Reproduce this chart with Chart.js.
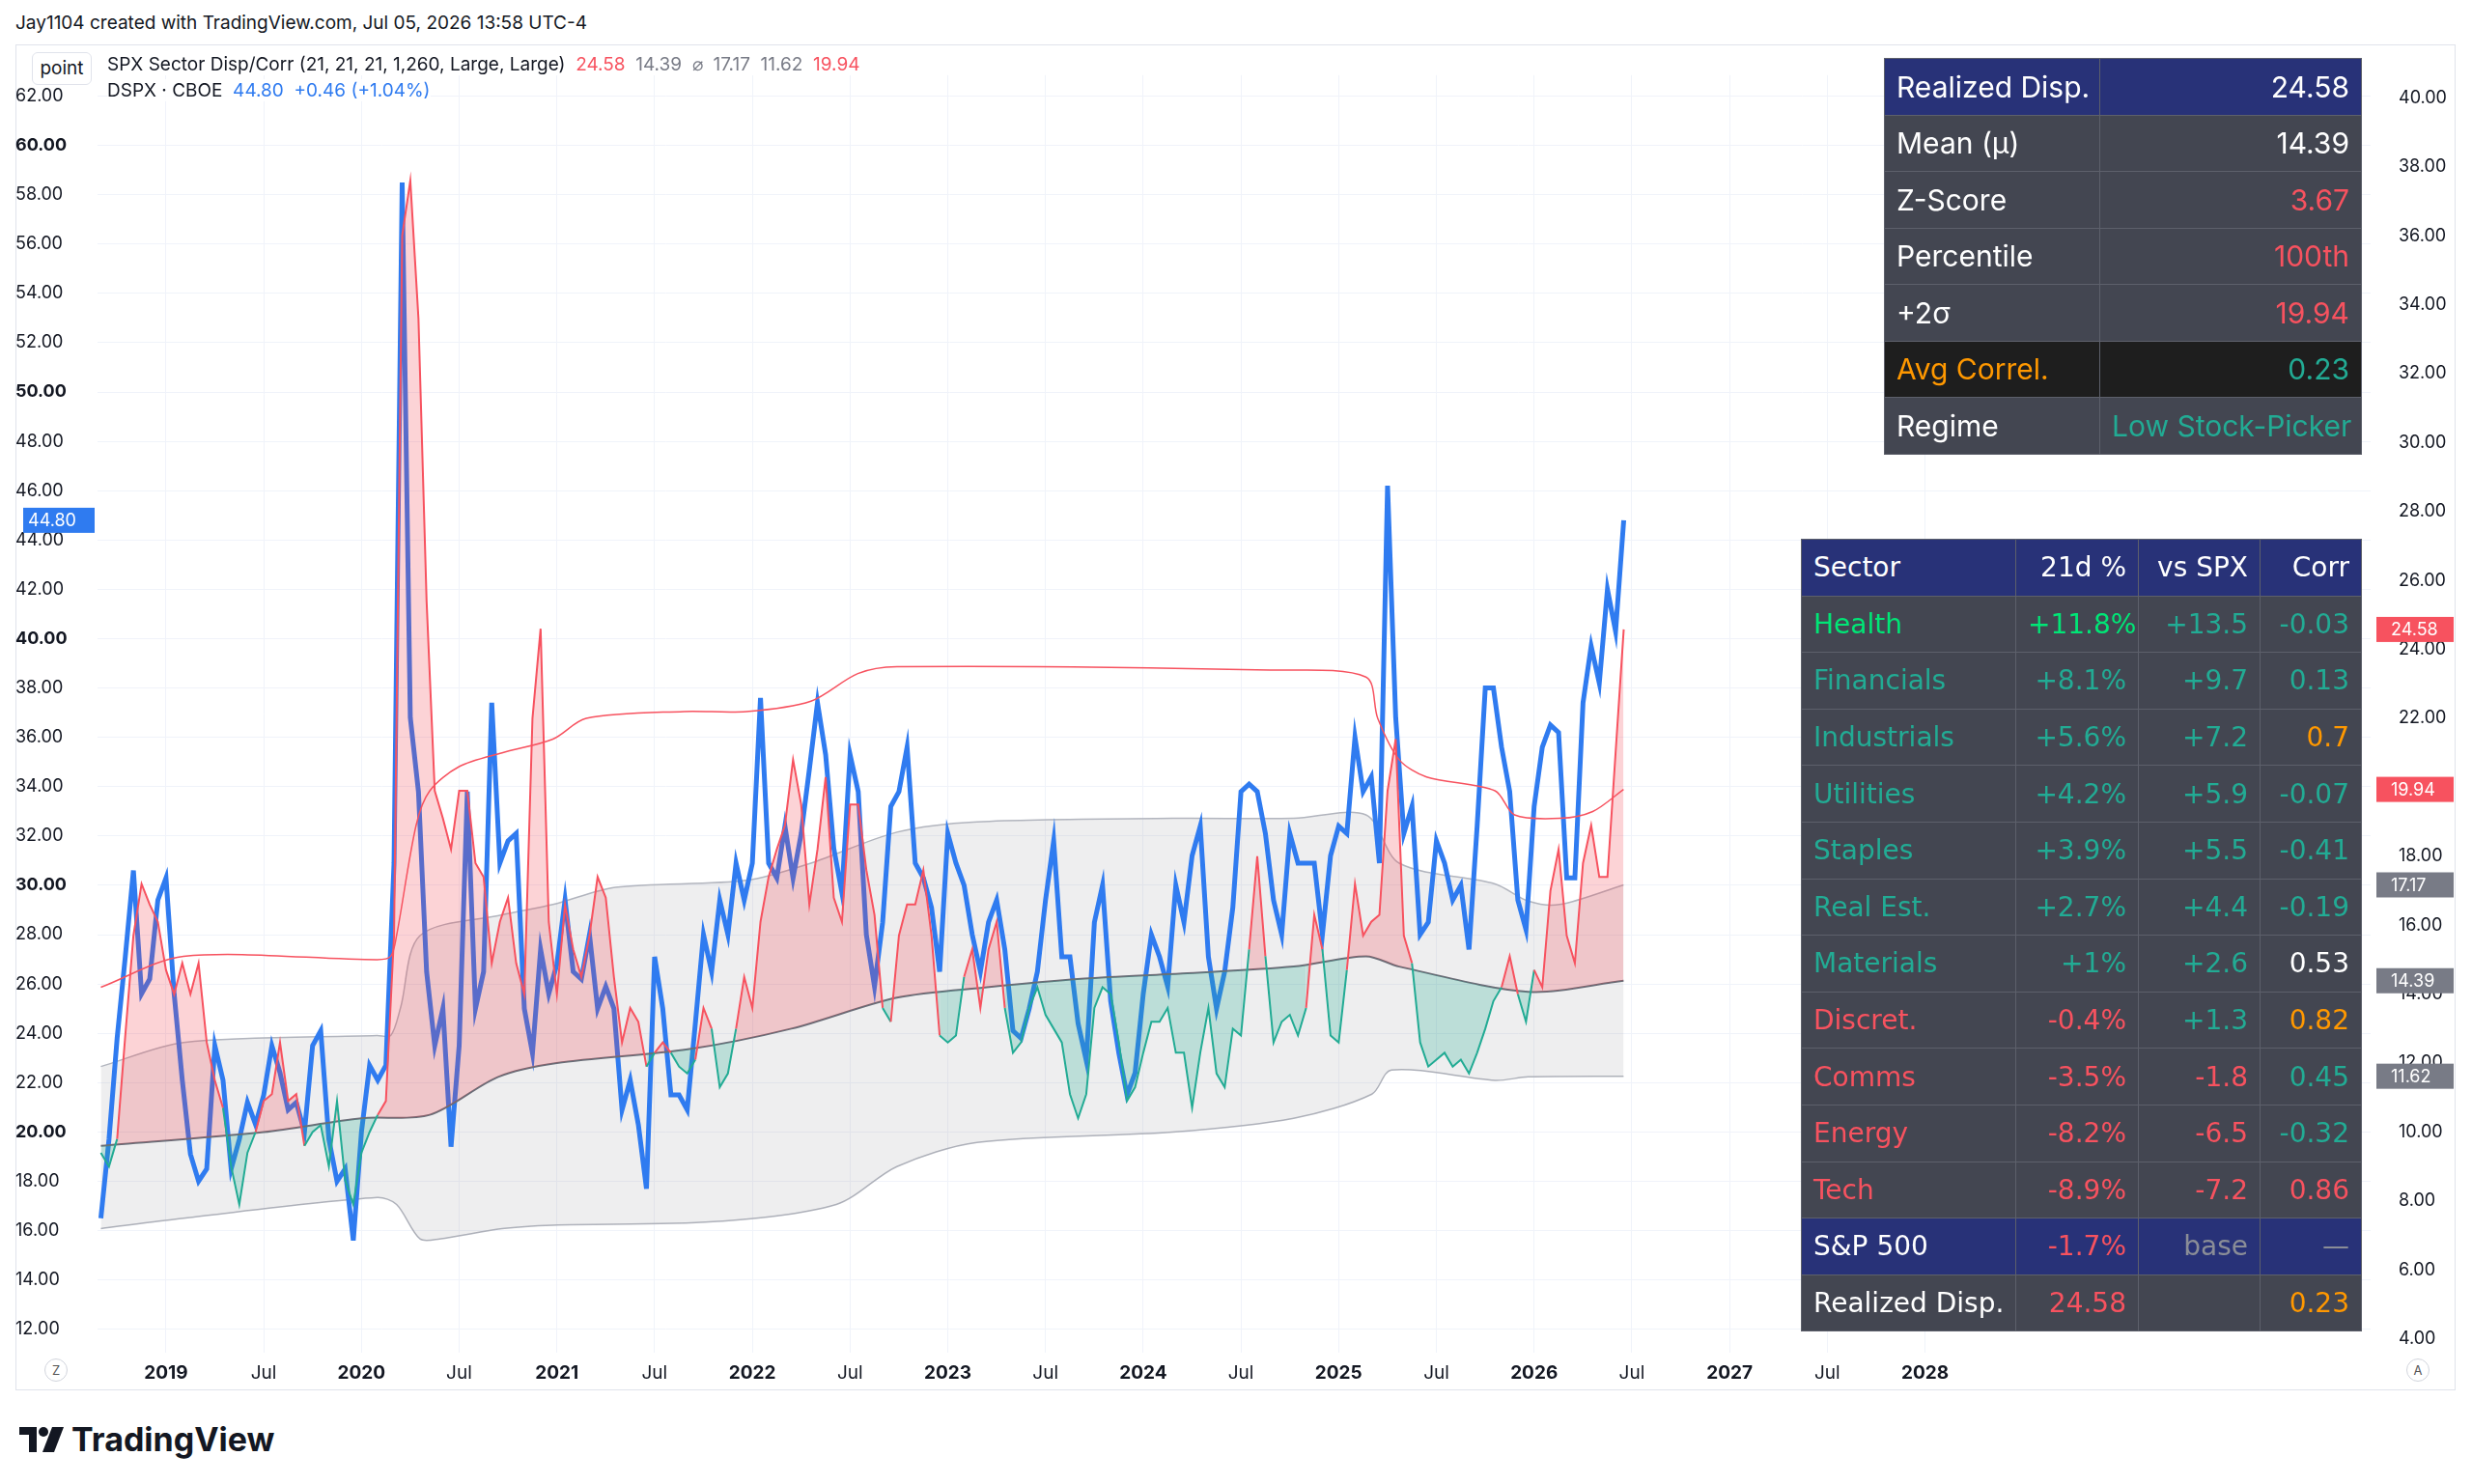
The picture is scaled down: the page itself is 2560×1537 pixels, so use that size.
<!DOCTYPE html>
<html><head><meta charset="utf-8">
<script src="https://cdn.jsdelivr.net/npm/chart.js@4.4.1/dist/chart.umd.min.js"></script>
<style>
html,body{margin:0;padding:0;background:#fff;width:2560px;height:1537px;overflow:hidden;font-family:Inter,Roboto,sans-serif;color:#131722}
#hdr{position:absolute;left:16px;top:12px;font-size:19px}
#frame{position:absolute;left:16px;top:46px;width:2527px;height:1394px;border:1px solid #e0e3eb;box-sizing:border-box}
#wrap{position:absolute;left:16px;top:46px;width:2527px;height:1394px}
#pt{position:absolute;left:33px;top:54px;width:60px;height:32px;border:1px solid #e0e3eb;border-radius:6px;background:#fff;text-align:center;line-height:32px;font-size:19px}
.l1{position:absolute;left:111px;top:55px;font-size:19px;white-space:nowrap;background:rgba(255,255,255,0.85)}
.l2{position:absolute;left:111px;top:82px;font-size:19px;white-space:nowrap;background:rgba(255,255,255,0.85)}
table{position:absolute;border-collapse:collapse;table-layout:fixed}
td{border:1.5px solid #5d606b;padding:0 12px;white-space:nowrap;overflow:hidden;box-sizing:border-box}
#t1{left:1951px;top:60px;width:494px;font-family:Inter,sans-serif;font-size:30px}
#t1 td{height:58.5px;background:#434651;color:#fff}
#t2{left:1865px;top:558px;width:580px;font-family:"DejaVu Sans",sans-serif;font-size:28px}
#t2 td{height:58.6px;background:#434651;color:#fff}
.nv td{background:#283278 !important}
.dk td{background:#1e1e1e !important}
.r{text-align:right}
.red{color:#f7525f !important}.tl{color:#22ab94 !important}.or{color:#ff9800 !important}.gr{color:#00e676 !important}.gy{color:#8a8d97 !important}.wh{color:#fff !important}
#logo{position:absolute;left:20px;top:1470px;font-size:34px;font-weight:700;display:flex;align-items:center;gap:8px;font-family:Inter,sans-serif}
.circ{position:absolute;width:22px;height:22px;border-radius:50%;border:1px solid #d1d4dc;font-size:13px;text-align:center;line-height:22px;color:#555;background:#fff}
</style></head><body>
<div id="hdr">Jay1104 created with TradingView.com, Jul 05, 2026 13:58 UTC-4</div>
<div id="frame"></div>
<div id="wrap"><canvas id="c" width="2527" height="1394" style="width:2527px;height:1394px"></canvas></div>
<div id="pt">point</div>
<div class="l1">SPX Sector Disp/Corr (21, 21, 21, 1,260, Large, Large)&nbsp; <span style="color:#f7525f">24.58</span>&nbsp; <span style="color:#787b86">14.39</span>&nbsp; <span style="color:#787b86">⌀</span>&nbsp; <span style="color:#787b86">17.17</span>&nbsp; <span style="color:#787b86">11.62</span>&nbsp; <span style="color:#f7525f">19.94</span></div>
<div class="l2">DSPX · CBOE&nbsp; <span style="color:#2f7bf0">44.80</span>&nbsp; <span style="color:#2f7bf0">+0.46 (+1.04%)</span></div>
<table id="t1">
<colgroup><col style="width:223px"><col style="width:271px"></colgroup>
<tr class="nv"><td>Realized Disp.</td><td class="r">24.58</td></tr>
<tr><td>Mean (µ)</td><td class="r">14.39</td></tr>
<tr><td>Z-Score</td><td class="r red">3.67</td></tr>
<tr><td>Percentile</td><td class="r red">100th</td></tr>
<tr><td>+2σ</td><td class="r red">19.94</td></tr>
<tr class="dk"><td class="or">Avg Correl.</td><td class="r tl">0.23</td></tr>
<tr><td>Regime</td><td class="r tl">Low Stock-Picker</td></tr>
</table>
<table id="t2">
<colgroup><col style="width:222px"><col style="width:127px"><col style="width:126px"><col style="width:105px"></colgroup>
<tr class="nv"><td>Sector</td><td class="r">21d %</td><td class="r">vs SPX</td><td class="r">Corr</td></tr>
<tr><td class="gr">Health</td><td class="r gr">+11.8%</td><td class="r tl">+13.5</td><td class="r tl">-0.03</td></tr>
<tr><td class="tl">Financials</td><td class="r tl">+8.1%</td><td class="r tl">+9.7</td><td class="r tl">0.13</td></tr>
<tr><td class="tl">Industrials</td><td class="r tl">+5.6%</td><td class="r tl">+7.2</td><td class="r or">0.7</td></tr>
<tr><td class="tl">Utilities</td><td class="r tl">+4.2%</td><td class="r tl">+5.9</td><td class="r tl">-0.07</td></tr>
<tr><td class="tl">Staples</td><td class="r tl">+3.9%</td><td class="r tl">+5.5</td><td class="r tl">-0.41</td></tr>
<tr><td class="tl">Real Est.</td><td class="r tl">+2.7%</td><td class="r tl">+4.4</td><td class="r tl">-0.19</td></tr>
<tr><td class="tl">Materials</td><td class="r tl">+1%</td><td class="r tl">+2.6</td><td class="r wh">0.53</td></tr>
<tr><td class="red">Discret.</td><td class="r red">-0.4%</td><td class="r tl">+1.3</td><td class="r or">0.82</td></tr>
<tr><td class="red">Comms</td><td class="r red">-3.5%</td><td class="r red">-1.8</td><td class="r tl">0.45</td></tr>
<tr><td class="red">Energy</td><td class="r red">-8.2%</td><td class="r red">-6.5</td><td class="r tl">-0.32</td></tr>
<tr><td class="red">Tech</td><td class="r red">-8.9%</td><td class="r red">-7.2</td><td class="r red">0.86</td></tr>
<tr class="nv"><td>S&amp;P 500</td><td class="r red">-1.7%</td><td class="r gy">base</td><td class="r gy">—</td></tr>
<tr><td>Realized Disp.</td><td class="r red">24.58</td><td></td><td class="r or">0.23</td></tr>
</table>
<div class="circ" style="left:46px;top:1407px">Z</div>
<div class="circ" style="left:2492px;top:1407px">A</div>
<div id="logo"><svg width="46" height="26" viewBox="0 0 46 26"><path d="M0 0h18v26h-8V8H0z" fill="#131722"/><circle cx="25" cy="5" r="5" fill="#131722"/><path d="M34 0h12L36 26h-12z" fill="#131722"/></svg>TradingView</div>
<script>
// time grid: semi-monthly steps starting Sep 2018
const START_YEAR = 2018.667, STEP = 1/24;
const dspx = [16.5,19.7,23.8,27.1,30.6,25.6,26.2,29.4,30.3,25.6,
22.1,19.1,18,18.5,23.5,22.1,18.5,19.7,21.2,20.3,
21.5,23.5,22.4,20.9,21.2,20,23.5,24.1,19.7,18,
18.5,15.6,20,22.7,22.1,22.7,30.9,58.5,36.8,33.8,
26.5,23.5,25,19.4,23.5,33.8,25,26.5,37.4,30.9,
31.8,32.1,25,23.2,27.4,25.6,26.8,29.4,26.5,26.2,
28,25,25.9,25,20.9,22.1,20.3,17.7,27.1,25,
21.5,21.5,20.9,24.4,28,26.5,29.4,28,30.9,29.4,
30.9,37.6,30.9,30.3,32.4,30.3,32.1,34.7,37.4,35.3,
31.5,29.7,35.3,33.8,28,25.9,28.5,33.2,33.8,35.6,
30.9,30.3,29.1,26.5,32.1,30.9,30,28,26.5,28.5,
29.4,27.4,24.1,23.8,25,26.5,29.4,31.8,27.1,27.1,
24.4,22.9,28.5,30,25.3,23.2,21.5,22.4,25.6,28,
27.1,25.9,30,28.5,31.2,32.4,27.1,25,26.5,29.1,
33.8,34.1,33.8,32.1,29.4,28,32.1,30.9,30.9,30.9,
28,31.2,32.4,32.1,36,33.8,34.4,30.9,46.2,36.8,
32.1,33.2,28,28.5,31.8,30.9,29.4,30,27.4,32.4,
38,38,35.6,33.8,29.4,28.2,33.2,35.6,36.5,36.2,
30.3,30.3,37.4,39.7,38.2,42,40.3,44.8];
const realizedDisp = [9.4,9,9.8,12.8,15.7,17.2,16.6,16.1,14.7,14,
14.9,14,14.9,12.6,11.5,10.7,9,7.9,9.4,10,
10.9,11.1,12.6,10.9,11.1,9.6,10,10.2,9,10.9,
8.6,7.9,9.4,10,10.5,10.9,15.7,36,37.6,33.6,
25.4,19.9,19.1,18.2,19.9,19.9,17.8,17.4,14.9,16.1,
16.8,14.9,14,22,24.6,16.1,14,16.6,15.3,14.5,
15.7,17.4,16.8,14.5,12.6,13.6,13.2,11.9,12.3,12.6,
12.3,11.9,11.7,12.1,13.6,13,11.3,11.7,13,14.5,
13.6,16.1,17.4,18.2,18.9,20.8,19.5,16.6,18.2,20.3,
16.8,16.1,19.5,19.5,17.6,16.3,13.6,13.2,15.7,16.6,
16.6,17.6,15.7,12.8,12.6,12.8,14.5,15.3,13.6,15.3,
16.1,13.6,12.3,12.6,13.6,14.2,13.4,13,12.6,11.1,
10.4,11.1,13.6,14.2,14,12.6,10.9,11.3,12.3,13.2,
13.2,13.6,12.3,12.3,10.7,12.3,13.6,11.7,11.3,13,
12.8,15.3,18,15.1,12.6,13.2,13.4,12.8,13.6,16.3,
15.3,12.8,12.6,14.7,17.2,15.7,16.1,16.3,19.9,21.4,
15.7,14.9,12.6,11.9,12.1,12.3,11.9,12.1,11.7,12.3,
13,13.8,14.2,15.1,14,13.2,14.7,14.2,17,18.2,
15.7,14.9,17.8,18.9,17.4,17.4,21,24.58];
const meanDates = [2018.667,2019.5,2020.0,2020.35,2020.7,2021.0,2021.67,2022.2,2022.74,2023.2,2023.7,2024.2,2024.77,2025.14,2025.31,2025.97,2026.458];
const meanVals  = [9.6,10.0,10.4,10.5,11.6,12.0,12.4,13.0,13.9,14.2,14.45,14.6,14.8,15.1,14.8,14.07,14.39];
const sig2Dates = [2018.667,2019.09,2020.08,2020.15,2020.18,2020.28,2020.35,2020.5,2020.72,2020.98,2021.15,2021.65,2021.97,2022.3,2022.54,2022.74,2024.65,2025.14,2025.2,2025.31,2025.45,2025.8,2025.9,2026.13,2026.3,2026.458];
const sig2Vals  = [14.2,15.1,15.0,15.1,15.7,18.9,19.9,20.6,21.0,21.4,22.0,22.2,22.2,22.5,23.3,23.5,23.4,23.2,22.0,20.8,20.3,19.9,19.2,19.1,19.3,19.94];
const upDates = [2018.667,2019.09,2020.08,2020.15,2020.2,2020.3,2020.72,2020.98,2021.3,2021.97,2022.3,2022.74,2023.15,2024.15,2024.77,2025.14,2025.31,2025.8,2025.97,2026.13,2026.458];
const upVals  = [11.9,12.6,12.8,12.8,13.6,15.7,16.3,16.6,17.1,17.3,17.8,18.7,19.0,19.1,19.1,19.2,17.8,17.2,16.7,16.6,17.17];
const loDates = [2018.667,2019.09,2020.08,2020.18,2020.3,2020.4,2020.72,2020.98,2021.8,2022.43,2022.74,2023.15,2024.15,2024.77,2025.17,2025.27,2025.8,2025.97,2026.458];
const loVals  = [7.2,7.5,8.1,7.9,6.9,6.9,7.2,7.3,7.4,7.9,9.0,9.7,10.0,10.4,11.1,11.8,11.5,11.6,11.62];
const xTickVals = [2019,2019.5,2020,2020.5,2021,2021.5,2022,2022.5,2023,2023.5,2024,2024.5,2025,2025.5,2026,2026.5,2027,2027.5,2028];
const leftTicks = [12,14,16,18,20,22,24,26,28,30,32,34,36,38,40,42,44,46,48,50,52,54,56,58,60,62];
const rightTicks = [4,6,8,10,12,14,16,18,20,22,24,26,28,30,32,34,36,38,40];
const rightBoxes = [[24.58,'#f7525f'],[19.94,'#f7525f'],[17.17,'#787b86'],[14.39,'#787b86'],[11.62,'#787b86']];
const leftBoxes = [[44.80,'#2f7bf0']];

const tx = i => START_YEAR + i*STEP;
const pts = (arr) => arr.map((v,i)=>({x:tx(i),y:v}));
const pair = (d,v) => d.map((x,i)=>({x:x,y:v[i]}));
function meanAt(x){
  for(let i=1;i<meanDates.length;i++){ if(x<=meanDates[i]){const a=meanDates[i-1],b=meanDates[i];return meanVals[i-1]+(meanVals[i]-meanVals[i-1])*(x-a)/(b-a);} }
  return meanVals[meanVals.length-1];
}
const RED='#f7525f', TEAL='#22ab94';
const boxes = {id:'boxes',afterDraw(c){
  const g=c.ctx; g.save(); g.font='18px Inter'; g.textBaseline='middle';
  const yr=c.scales.yR, yl=c.scales.yL;
  rightBoxes.forEach(([v,col])=>{const y=yr.getPixelForValue(v);g.fillStyle=col;g.fillRect(yr.left+6,y-13,yr.width-8,26);g.fillStyle='#fff';g.textAlign='left';g.fillText(v.toFixed(2),yr.left+21,y+1);});
  leftBoxes.forEach(([v,col])=>{const y=yl.getPixelForValue(v);g.fillStyle=col;g.fillRect(8,y-13,74,26);g.fillStyle='#fff';g.textAlign='left';g.fillText(v.toFixed(2),13,y+1);});
  g.restore();
}};
new Chart(document.getElementById('c'),{
  type:'line',
  data:{datasets:[
    {label:'DSPX',data:pts(dspx),yAxisID:'yL',borderColor:'#2f7bf0',borderWidth:5,pointRadius:0,order:3,fill:false,tension:0},
    {label:'upper',data:pair(upDates,upVals),yAxisID:'yR',borderColor:'#b2b5be',borderWidth:1.5,pointRadius:0,order:4,fill:{target:2,above:'rgba(120,123,134,0.13)',below:'rgba(120,123,134,0.13)'},tension:0.3},
    {label:'lower',data:pair(loDates,loVals),yAxisID:'yR',borderColor:'#b2b5be',borderWidth:1.5,pointRadius:0,order:5,fill:false,tension:0.3},
    {label:'mean',data:pair(meanDates,meanVals),yAxisID:'yR',borderColor:'#6a6d78',borderWidth:2,pointRadius:0,order:2,fill:false,tension:0.3},
    {label:'disp',data:pts(realizedDisp),yAxisID:'yR',borderColor:RED,borderWidth:2,pointRadius:0,order:1,tension:0,
      fill:{target:3,above:'rgba(242,54,69,0.22)',below:'rgba(34,171,148,0.25)'},
      segment:{borderColor:ctx=>{const x=(ctx.p0.parsed.x+ctx.p1.parsed.x)/2,y=(ctx.p0.parsed.y+ctx.p1.parsed.y)/2;return y>=meanAt(x)?RED:TEAL;}}},
    {label:'sig2',data:pair(sig2Dates,sig2Vals),yAxisID:'yR',borderColor:'#f7525f',borderWidth:1.5,pointRadius:0,order:0,fill:false,tension:0.3}
  ]},
  options:{responsive:false,animation:false,maintainAspectRatio:false,devicePixelRatio:1,
    layout:{padding:0},
    plugins:{legend:{display:false},tooltip:{enabled:false}},
    scales:{
      x:{type:'linear',min:2018.65,max:2030.28,
        afterBuildTicks:s=>{s.ticks=xTickVals.map(v=>({value:v}));},
        afterFit:s=>{s.height=39;},
        grid:{color:'#f0f3fa',drawTicks:false},border:{display:false},
        ticks:{autoSkip:false,maxRotation:0,padding:10,color:'#131722',
          font:c=>({family:'Inter',size:19,weight:(c.tick&&c.tick.value%1===0)?'bold':'normal'}),
          callback:v=>v%1===0?String(v):'Jul'}},
      yL:{position:'left',min:11.05,max:62.85,
        afterBuildTicks:s=>{s.ticks=leftTicks.map(v=>({value:v}));},
        afterFit:s=>{s.width=85;},
        grid:{color:'#f0f3fa',drawTicks:false},border:{display:false},
        ticks:{crossAlign:'far',padding:8,color:'#131722',
          font:c=>({family:'Inter',size:18,weight:(c.tick&&c.tick.value%10===0)?'bold':'normal'}),
          callback:v=>Number(v).toFixed(2)}},
      yR:{position:'right',min:3.6,max:40.66,
        afterBuildTicks:s=>{s.ticks=rightTicks.map(v=>({value:v}));},
        afterFit:s=>{s.width=88;},
        grid:{display:false},border:{display:false},
        ticks:{crossAlign:'near',padding:21,color:'#131722',font:{family:'Inter',size:18},
          callback:v=>Number(v).toFixed(2)}}
    }
  },
  plugins:[boxes]
});
</script>
</body></html>
